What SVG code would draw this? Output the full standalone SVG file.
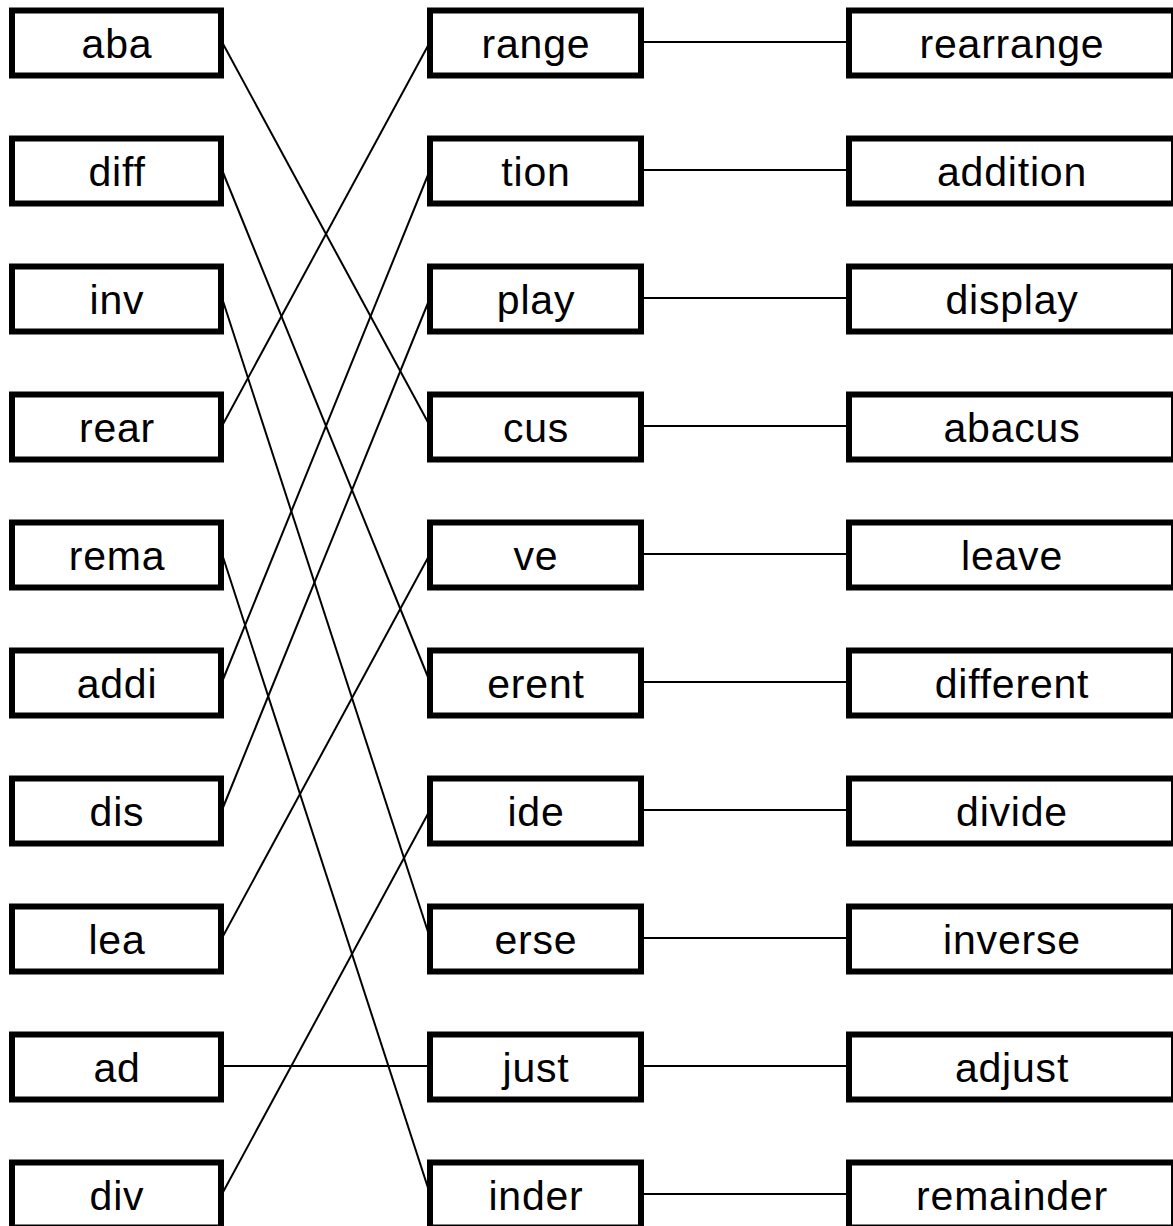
<svg xmlns="http://www.w3.org/2000/svg" width="1173" height="1226" viewBox="0 0 1173 1226">
<style>
.box{fill:#fff;stroke:#000;stroke-width:6}
.lbl{font-family:"Liberation Sans",Arial,sans-serif;font-size:41px;letter-spacing:0.8px;fill:#000;text-anchor:middle}
.ln{stroke:#000;stroke-width:2;fill:none}
</style>
<rect width="1173" height="1226" fill="#fff"/>
<g id="connectors">
<line class="ln" x1="222" y1="42" x2="430" y2="426"/>
<line class="ln" x1="222" y1="170" x2="430" y2="682"/>
<line class="ln" x1="222" y1="298" x2="430" y2="938"/>
<line class="ln" x1="222" y1="426" x2="430" y2="42"/>
<line class="ln" x1="222" y1="554" x2="430" y2="1194"/>
<line class="ln" x1="222" y1="682" x2="430" y2="170"/>
<line class="ln" x1="222" y1="810" x2="430" y2="298"/>
<line class="ln" x1="222" y1="938" x2="430" y2="554"/>
<line class="ln" x1="222" y1="1066" x2="430" y2="1066"/>
<line class="ln" x1="222" y1="1194" x2="430" y2="810"/>
<line class="ln" x1="641" y1="42" x2="849" y2="42"/>
<line class="ln" x1="641" y1="170" x2="849" y2="170"/>
<line class="ln" x1="641" y1="298" x2="849" y2="298"/>
<line class="ln" x1="641" y1="426" x2="849" y2="426"/>
<line class="ln" x1="641" y1="554" x2="849" y2="554"/>
<line class="ln" x1="641" y1="682" x2="849" y2="682"/>
<line class="ln" x1="641" y1="810" x2="849" y2="810"/>
<line class="ln" x1="641" y1="938" x2="849" y2="938"/>
<line class="ln" x1="641" y1="1066" x2="849" y2="1066"/>
<line class="ln" x1="641" y1="1194" x2="849" y2="1194"/>
</g>
<g id="n-aba"><rect class="box" x="12" y="10.5" width="209" height="65"/><text class="lbl" x="117" y="58">aba</text></g>
<g id="n-diff"><rect class="box" x="12" y="138.5" width="209" height="65"/><text class="lbl" x="117" y="186">diff</text></g>
<g id="n-inv"><rect class="box" x="12" y="266.5" width="209" height="65"/><text class="lbl" x="117" y="314">inv</text></g>
<g id="n-rear"><rect class="box" x="12" y="394.5" width="209" height="65"/><text class="lbl" x="117" y="442">rear</text></g>
<g id="n-rema"><rect class="box" x="12" y="522.5" width="209" height="65"/><text class="lbl" x="117" y="570">rema</text></g>
<g id="n-addi"><rect class="box" x="12" y="650.5" width="209" height="65"/><text class="lbl" x="117" y="698">addi</text></g>
<g id="n-dis"><rect class="box" x="12" y="778.5" width="209" height="65"/><text class="lbl" x="117" y="826">dis</text></g>
<g id="n-lea"><rect class="box" x="12" y="906.5" width="209" height="65"/><text class="lbl" x="117" y="954">lea</text></g>
<g id="n-ad"><rect class="box" x="12" y="1034.5" width="209" height="65"/><text class="lbl" x="117" y="1082">ad</text></g>
<g id="n-div"><rect class="box" x="12" y="1162.5" width="209" height="65"/><text class="lbl" x="117" y="1210">div</text></g>
<g id="n-range"><rect class="box" x="430" y="10.5" width="211" height="65"/><text class="lbl" x="536" y="58">range</text></g>
<g id="n-tion"><rect class="box" x="430" y="138.5" width="211" height="65"/><text class="lbl" x="536" y="186">tion</text></g>
<g id="n-play"><rect class="box" x="430" y="266.5" width="211" height="65"/><text class="lbl" x="536" y="314">play</text></g>
<g id="n-cus"><rect class="box" x="430" y="394.5" width="211" height="65"/><text class="lbl" x="536" y="442">cus</text></g>
<g id="n-ve"><rect class="box" x="430" y="522.5" width="211" height="65"/><text class="lbl" x="536" y="570">ve</text></g>
<g id="n-erent"><rect class="box" x="430" y="650.5" width="211" height="65"/><text class="lbl" x="536" y="698">erent</text></g>
<g id="n-ide"><rect class="box" x="430" y="778.5" width="211" height="65"/><text class="lbl" x="536" y="826">ide</text></g>
<g id="n-erse"><rect class="box" x="430" y="906.5" width="211" height="65"/><text class="lbl" x="536" y="954">erse</text></g>
<g id="n-just"><rect class="box" x="430" y="1034.5" width="211" height="65"/><text class="lbl" x="536" y="1082">just</text></g>
<g id="n-inder"><rect class="box" x="430" y="1162.5" width="211" height="65"/><text class="lbl" x="536" y="1210">inder</text></g>
<g id="n-rearrange"><rect class="box" x="849" y="10.5" width="325" height="65"/><text class="lbl" x="1012" y="58">rearrange</text></g>
<g id="n-addition"><rect class="box" x="849" y="138.5" width="325" height="65"/><text class="lbl" x="1012" y="186">addition</text></g>
<g id="n-display"><rect class="box" x="849" y="266.5" width="325" height="65"/><text class="lbl" x="1012" y="314">display</text></g>
<g id="n-abacus"><rect class="box" x="849" y="394.5" width="325" height="65"/><text class="lbl" x="1012" y="442">abacus</text></g>
<g id="n-leave"><rect class="box" x="849" y="522.5" width="325" height="65"/><text class="lbl" x="1012" y="570">leave</text></g>
<g id="n-different"><rect class="box" x="849" y="650.5" width="325" height="65"/><text class="lbl" x="1012" y="698">different</text></g>
<g id="n-divide"><rect class="box" x="849" y="778.5" width="325" height="65"/><text class="lbl" x="1012" y="826">divide</text></g>
<g id="n-inverse"><rect class="box" x="849" y="906.5" width="325" height="65"/><text class="lbl" x="1012" y="954">inverse</text></g>
<g id="n-adjust"><rect class="box" x="849" y="1034.5" width="325" height="65"/><text class="lbl" x="1012" y="1082">adjust</text></g>
<g id="n-remainder"><rect class="box" x="849" y="1162.5" width="325" height="65"/><text class="lbl" x="1012" y="1210">remainder</text></g>
</svg>
